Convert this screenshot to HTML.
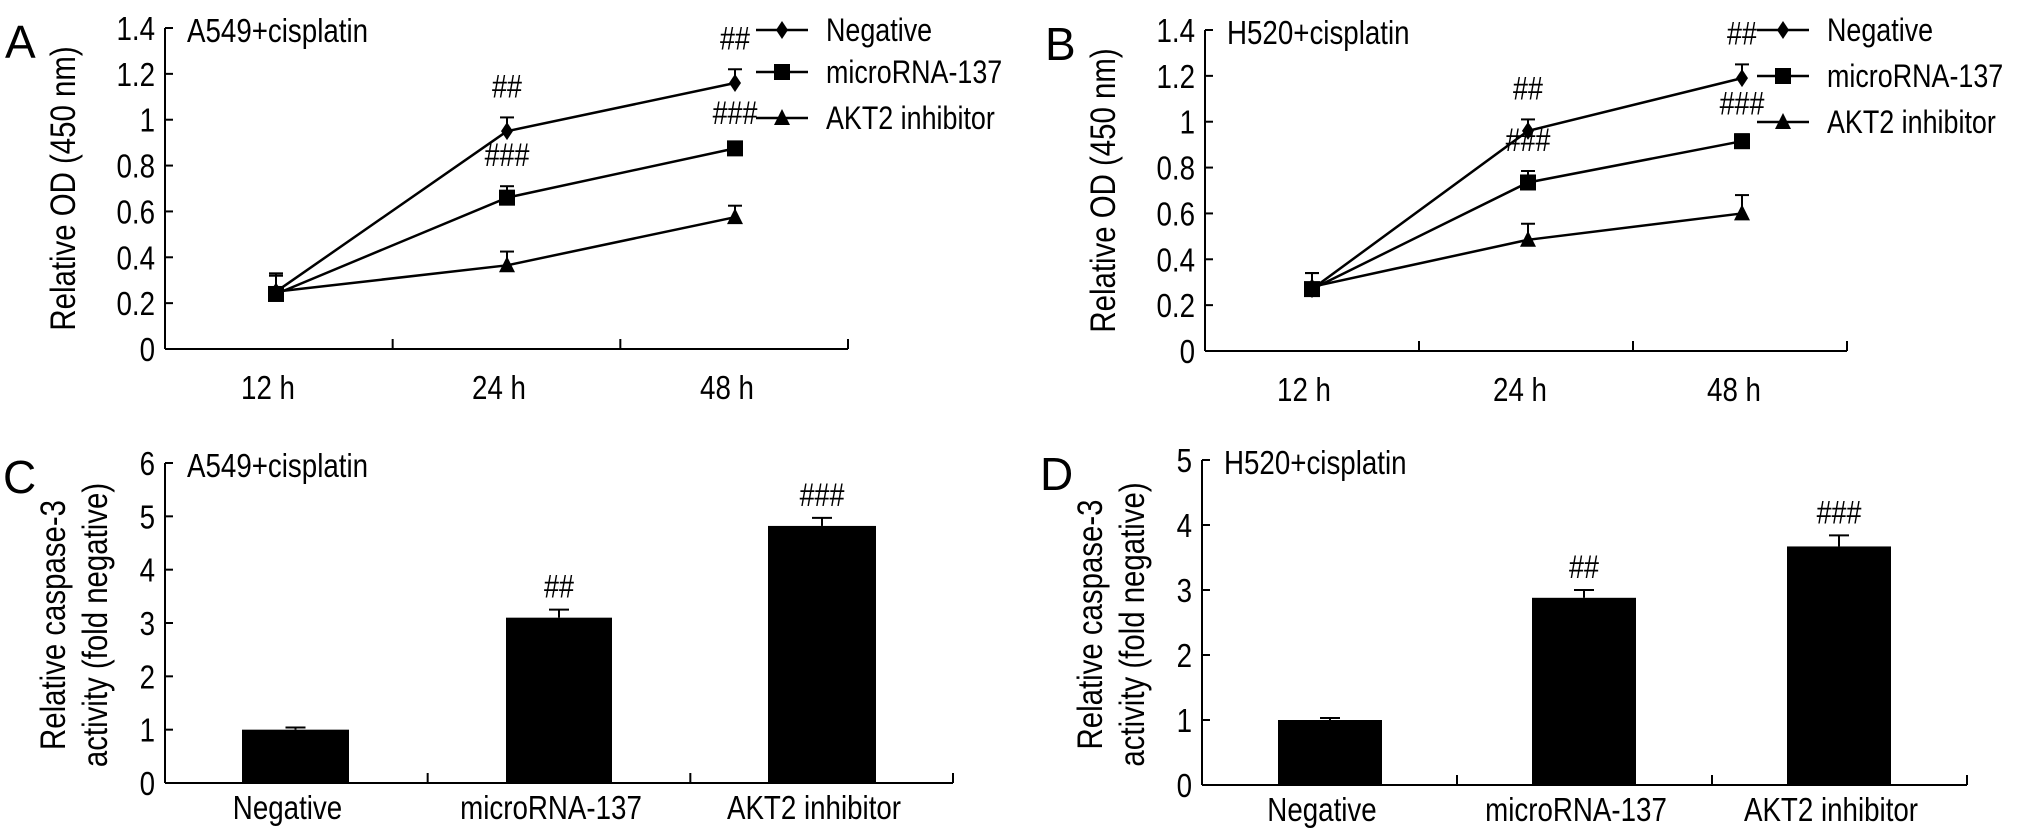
<!DOCTYPE html>
<html><head><meta charset="utf-8"><style>
html,body{margin:0;padding:0;background:#fff}
svg{display:block}
text{font-family:"Liberation Sans",sans-serif;fill:#000}
</style></head><body>
<svg id="fig" width="2032" height="838" viewBox="0 0 2032 838" xmlns="http://www.w3.org/2000/svg"></svg>
<script>
const timeCats = ["12 h","24 h","48 h"];
const odTicks = [0,0.2,0.4,0.6,0.8,1,1.2,1.4];
const odTickLabels = ["0","0.2","0.4","0.6","0.8","1","1.2","1.4"];
const seriesNames = ["Negative","microRNA-137","AKT2 inhibitor"];
const aNeg = [0.25,0.95,1.16], aNegErr=[0.08,0.06,0.06];
const aMir = [0.24,0.66,0.875], aMirErr=[0.08,0.05,0.02];
const aAkt = [0.25,0.365,0.575], aAktErr=[0.07,0.06,0.05];
const bNeg = [0.27,0.96,1.19], bNegErr=[0.07,0.05,0.06];
const bMir = [0.27,0.735,0.915], bMirErr=[0.07,0.05,0.03];
const bAkt = [0.28,0.485,0.60], bAktErr=[0.06,0.07,0.08];
const barCats = ["Negative","microRNA-137","AKT2 inhibitor"];
const cVals = [1.0,3.1,4.82], cErr=[0.04,0.15,0.15];
const dVals = [1.0,2.88,3.67], dErr=[0.03,0.12,0.17];
const cTicks = [0,1,2,3,4,5,6];
const dTicks = [0,1,2,3,4,5];
const aMarks = [["##","###"],["##","###"]];
const barMarks = ["","##","###"];

const svg=document.getElementById('fig');
const NS='http://www.w3.org/2000/svg';
const SX=0.84;
function el(tag,attrs,txt){const e=document.createElementNS(NS,tag);for(const k in attrs)e.setAttribute(k,attrs[k]);if(txt!==undefined)e.textContent=txt;svg.appendChild(e);return e;}
function txt(x,y,size,anchor,str,rot){
  const t=rot?`translate(${x} ${y}) rotate(-90) scale(${SX} 1)`:`translate(${x} ${y}) scale(${SX} 1)`;
  return el('text',{x:0,y:0,'font-size':size,'text-anchor':anchor,transform:t},str);
}

function axes(x0,x1,y0,y1,ticks,labels,ymax,cats,catX,name,labOff){
  const ys=v=>y0-(v/ymax)*(y0-y1);
  let e=el('line',{x1:x0,y1:y0,x2:x1,y2:y0,stroke:'#000','stroke-width':2});
  
  e=el('line',{x1:x0,y1:y0,x2:x0,y2:y1,stroke:'#000','stroke-width':2});
  
  ticks.forEach((t,i)=>{const y=ys(t);
    el('line',{x1:x0,y1:y,x2:x0+8,y2:y,stroke:'#000','stroke-width':2});
    e=txt(x0-10,y+12,33,'end',labels[i]);
    
  });
  const n=cats.length,w=(x1-x0)/n;
  for(let i=1;i<=n;i++){el('line',{x1:x0+w*i,y1:y0,x2:x0+w*i,y2:y0-10,stroke:'#000','stroke-width':2});}
  cats.forEach((c,i)=>{e=txt(catX(i),y0+labOff,33,'middle',c);
    });
  return ys;
}
function marker(type,x,y){
  let e;
  if(type===0) e=el('polygon',{points:`${x},${y-9} ${x+6},${y} ${x},${y+9} ${x-6},${y}`,fill:'#000'});
  else if(type===1) e=el('rect',{x:x-8,y:y-8,width:16,height:16,fill:'#000'});
  else e=el('polygon',{points:`${x},${y-9} ${x+8},${y+7} ${x-8},${y+7}`,fill:'#000'});
  return e;
}
function linePanel(o){
  const {x0,x1,y0,y1,pts,series,errs,name,letter,title,marks,leg}=o;
  const ys=axes(x0,x1,y0,y1,odTicks,odTickLabels,1.4,timeCats,i=>pts[i]-8,name,50);
  series.forEach((s,si)=>{
    let e=el('polyline',{points:s.map((v,i)=>pts[i]+','+ys(v)).join(' '),fill:'none',stroke:'#000','stroke-width':2.5});
    
    s.forEach((v,i)=>{const x=pts[i],y=ys(v),ye=ys(v+errs[si][i]);
      el('line',{x1:x,y1:y,x2:x,y2:ye,stroke:'#000','stroke-width':2});
      el('line',{x1:x-7,y1:ye,x2:x+7,y2:ye,stroke:'#000','stroke-width':2});
      e=marker(si,x,y);
    });
  });
  [1,2].forEach(i=>{[0,1].forEach(si=>{
    const v=series[si][i]+errs[si][i];
    const e=txt(pts[i],ys(v)-20,32,'middle',marks[i-1][si]);
    
  });});
  seriesNames.forEach((n,si)=>{const y=leg.ys[si];
    el('line',{x1:leg.x,y1:y,x2:leg.x+52,y2:y,stroke:'#000','stroke-width':2.5});
    let m=marker(si,leg.x+26,y);
    const e=txt(leg.x+70,y+11,32,'start',n);
    
  });
  let e=el('text',{x:x0-160,y:y1+30,'font-size':46},letter);
  e=txt(x0+22,y1+14,33,'start',title);
  const cy=(y0+y1)/2;
  e=txt(x0-90,cy,35,'middle','Relative OD (450 nm)',true);
  
}
function barPanel(o){
  const {x0,x1,y0,y1,vals,errs,ticks,ymax,bars,name,letter,title}=o;
  const ys=axes(x0,x1,y0,y1,ticks,ticks.map(String),ymax,barCats,i=>(bars[i][0]+bars[i][1])/2-8,name,36);
  vals.forEach((v,i)=>{const [bx0,bx1]=bars[i],cx=(bx0+bx1)/2,ye=ys(v+errs[i]);
    el('line',{x1:cx,y1:ys(v),x2:cx,y2:ye,stroke:'#000','stroke-width':2});
    el('line',{x1:cx-10,y1:ye,x2:cx+10,y2:ye,stroke:'#000','stroke-width':2});
    let e=el('rect',{x:bx0,y:ys(v),width:bx1-bx0,height:y0-ys(v),fill:'#000'});
    
    if(barMarks[i]){e=txt(cx,ye-12,32,'middle',barMarks[i]);
      }
  });
  let e=el('text',{x:x0-162,y:y1+30,'font-size':46},letter);
  e=txt(x0+22,y1+14,33,'start',title);
  const cy=(y0+y1)/2+2;
  e=txt(x0-100,cy,35,'middle','Relative caspase-3',true);
  
  e=txt(x0-58,cy,35,'middle','activity (fold negative)',true);
  
}
linePanel({x0:165,x1:848,y0:349,y1:28,pts:[276,507,735],series:[aNeg,aMir,aAkt],errs:[aNegErr,aMirErr,aAktErr],
  name:'panel-a',letter:'A',title:'A549+cisplatin',marks:aMarks,leg:{x:756,ys:[30,72,118]}});
linePanel({x0:1205,x1:1847,y0:351,y1:30,pts:[1312,1528,1742],series:[bNeg,bMir,bAkt],errs:[bNegErr,bMirErr,bAktErr],
  name:'panel-b',letter:'B',title:'H520+cisplatin',marks:aMarks,leg:{x:1757,ys:[30,76,122]}});
barPanel({x0:165,x1:953,y0:783,y1:463,vals:cVals,errs:cErr,ticks:cTicks,ymax:6,bars:[[242,349],[506,612],[768,876]],
  name:'panel-c',letter:'C',title:'A549+cisplatin'});
barPanel({x0:1202,x1:1967,y0:785,y1:460,vals:dVals,errs:dErr,ticks:dTicks,ymax:5,bars:[[1278,1382],[1532,1636],[1787,1891]],
  name:'panel-d',letter:'D',title:'H520+cisplatin'});
</script>
</body></html>
